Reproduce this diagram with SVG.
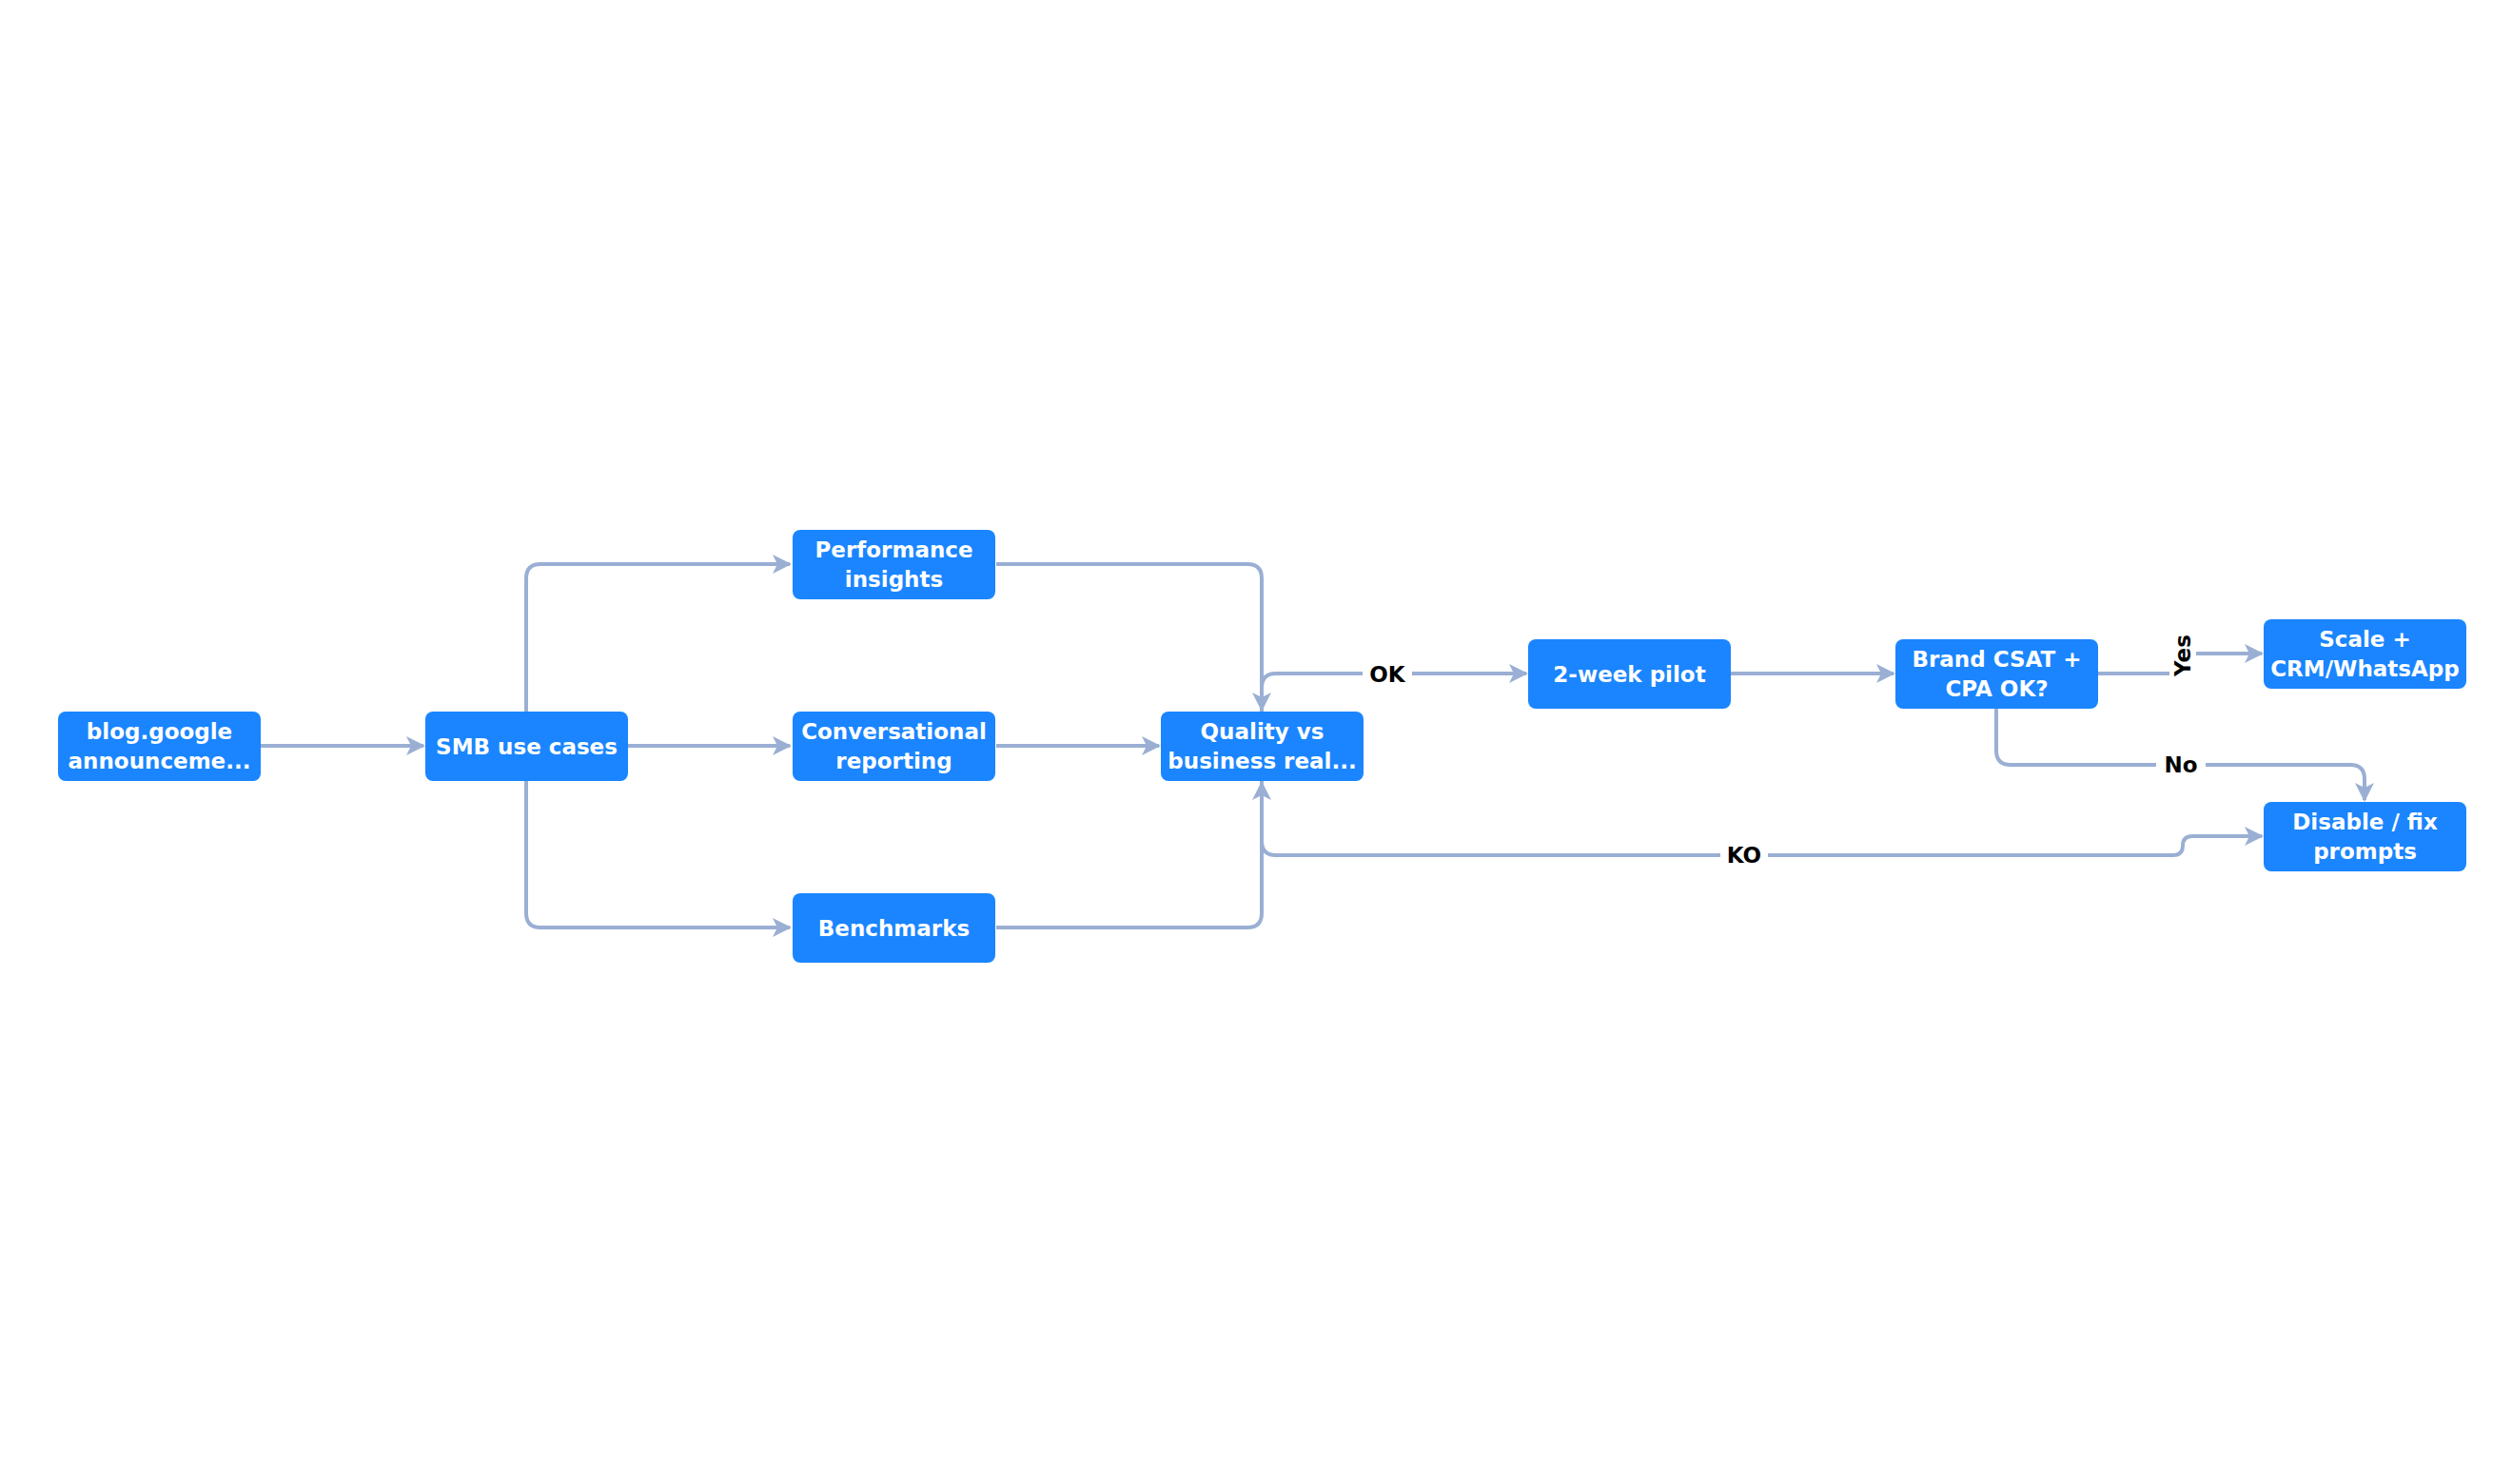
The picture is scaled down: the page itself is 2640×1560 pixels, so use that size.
<svg xmlns="http://www.w3.org/2000/svg" width="2640" height="1560" viewBox="0 0 2640 1560">
<style>
.n rect{fill:#1a85ff;}
.n text{fill:#fff;font-family:"DejaVu Sans",sans-serif;font-weight:bold;font-size:23px;text-anchor:middle;}
.e path{fill:none;stroke:#9aafd3;stroke-width:4;}
.l{font-family:"DejaVu Sans",sans-serif;font-weight:bold;font-size:23px;text-anchor:middle;fill:#000;}
.lb{fill:#fff;}
</style>
<defs><marker id="a" viewBox="0 0 10 10" refX="9" refY="5" markerWidth="5" markerHeight="5" orient="auto" markerUnits="strokeWidth"><path d="M0,0 L10,5 L0,10 L2.5,5 Z" fill="#9aafd3"/></marker></defs>
<rect width="2640" height="1560" fill="#fff"/>
<g class="e">
<path d="M274,784 H445" marker-end="url(#a)"/>
<path d="M553,748 V608 Q553,593 568,593 H830" marker-end="url(#a)"/>
<path d="M660,784 H830" marker-end="url(#a)"/>
<path d="M553,821 V960 Q553,975 568,975 H830" marker-end="url(#a)"/>
<path d="M1047,593 H1311 Q1326,593 1326,608 V746" marker-end="url(#a)"/>
<path d="M1047,784 H1218" marker-end="url(#a)"/>
<path d="M1047,975 H1311 Q1326,975 1326,960 V823" marker-end="url(#a)"/>
<path d="M1326,748 V723 Q1326,708 1341,708 H1604" marker-end="url(#a)"/>
<path d="M1819,708 H1990" marker-end="url(#a)"/>
<path d="M2205,708 H2284 Q2294,708 2294,698 V697 Q2294,687 2304,687 H2377" marker-end="url(#a)"/>
<path d="M2098,745 V789 Q2098,804 2113,804 H2470 Q2485,804 2485,819 V841" marker-end="url(#a)"/>
<path d="M1326,821 V884 Q1326,899 1341,899 H2284 Q2294,899 2294,889 Q2294,879 2304,879 H2377" marker-end="url(#a)"/>
<rect class="lb" x="1432" y="694" width="52" height="30"/>
<rect class="lb" x="2280" y="660" width="28" height="50"/>
<rect class="lb" x="2266" y="789" width="52" height="30"/>
<rect class="lb" x="1808" y="884" width="50" height="30"/>
<text class="l" x="1458" y="717">OK</text>
<text class="l" transform="translate(2302,689) rotate(-90)">Yes</text>
<text class="l" x="2292" y="812">No</text>
<text class="l" x="1833" y="907">KO</text>
</g>
<g id="blog" class="n"><rect x="61" y="748" width="213" height="73" rx="8"/><text x="167.5" y="777">blog.google</text><text x="167.5" y="808">announceme...</text></g>
<g id="smb" class="n"><rect x="447" y="748" width="213" height="73" rx="8"/><text x="553.5" y="793">SMB use cases</text></g>
<g id="perf" class="n"><rect x="833" y="557" width="213" height="73" rx="8"/><text x="939.5" y="586">Performance</text><text x="939.5" y="617">insights</text></g>
<g id="conv" class="n"><rect x="833" y="748" width="213" height="73" rx="8"/><text x="939.5" y="777">Conversational</text><text x="939.5" y="808">reporting</text></g>
<g id="bench" class="n"><rect x="833" y="939" width="213" height="73" rx="8"/><text x="939.5" y="984">Benchmarks</text></g>
<g id="quality" class="n"><rect x="1220" y="748" width="213" height="73" rx="8"/><text x="1326.5" y="777">Quality vs</text><text x="1326.5" y="808">business real...</text></g>
<g id="pilot" class="n"><rect x="1606" y="672" width="213" height="73" rx="8"/><text x="1712.5" y="717">2-week pilot</text></g>
<g id="brand" class="n"><rect x="1992" y="672" width="213" height="73" rx="8"/><text x="2098.5" y="701">Brand CSAT +</text><text x="2098.5" y="732">CPA OK?</text></g>
<g id="scale" class="n"><rect x="2379" y="651" width="213" height="73" rx="8"/><text x="2485.5" y="680">Scale +</text><text x="2485.5" y="711">CRM/WhatsApp</text></g>
<g id="disable" class="n"><rect x="2379" y="843" width="213" height="73" rx="8"/><text x="2485.5" y="872">Disable / fix</text><text x="2485.5" y="903">prompts</text></g>
</svg>
